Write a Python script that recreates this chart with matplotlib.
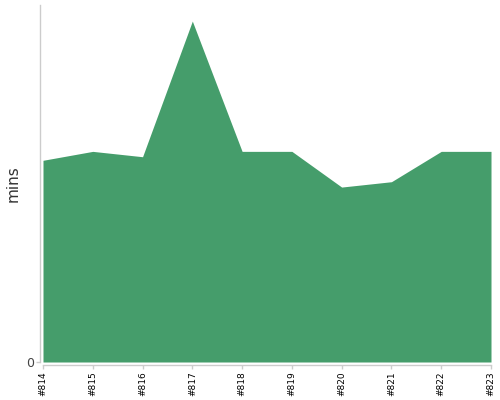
import matplotlib
matplotlib.use("Agg")
import matplotlib.pyplot as plt

builds = ["#814", "#815", "#816", "#817", "#818", "#819", "#820", "#821", "#822", "#823"]
mins = [22.6, 23.6, 23.0, 38.2, 23.6, 23.6, 19.6, 20.2, 23.6, 23.6]
y_max = 40
y_ticks = [0]

fig = plt.figure(figsize=(5, 4), dpi=100)
ax = fig.add_axes([43/500, (400-362)/400, (491-43)/500, (362-5)/400])
x = list(range(len(builds)))
ax.fill_between(x, 0, mins, color="#459d6b", linewidth=0)
ax.set_xlim(0, len(builds) - 1)
ax.set_ylim(0, y_max)
for s in ["top", "right"]:
    ax.spines[s].set_visible(False)
ax.spines["bottom"].set_position(("outward", 2.2))
ax.spines["left"].set_position(("outward", 2.2))
for s in ["bottom", "left"]:
    ax.spines[s].set_color("#cccccc")
    ax.spines[s].set_linewidth(1)
ax.tick_params(axis="both", color="#cccccc", length=3, width=1, pad=1.5)
ax.set_xticks(x)
ax.set_xticklabels(builds, rotation=90, fontsize=6.5, color="#000000")
ax.set_yticks(y_ticks)
ax.set_yticklabels(["0"], fontsize=9, color="#444444")
ax.set_ylabel("mins", fontsize=11, color="#333333")
ax.yaxis.set_label_coords(-0.05, 0.5)
fig.savefig("out.png", dpi=100)
